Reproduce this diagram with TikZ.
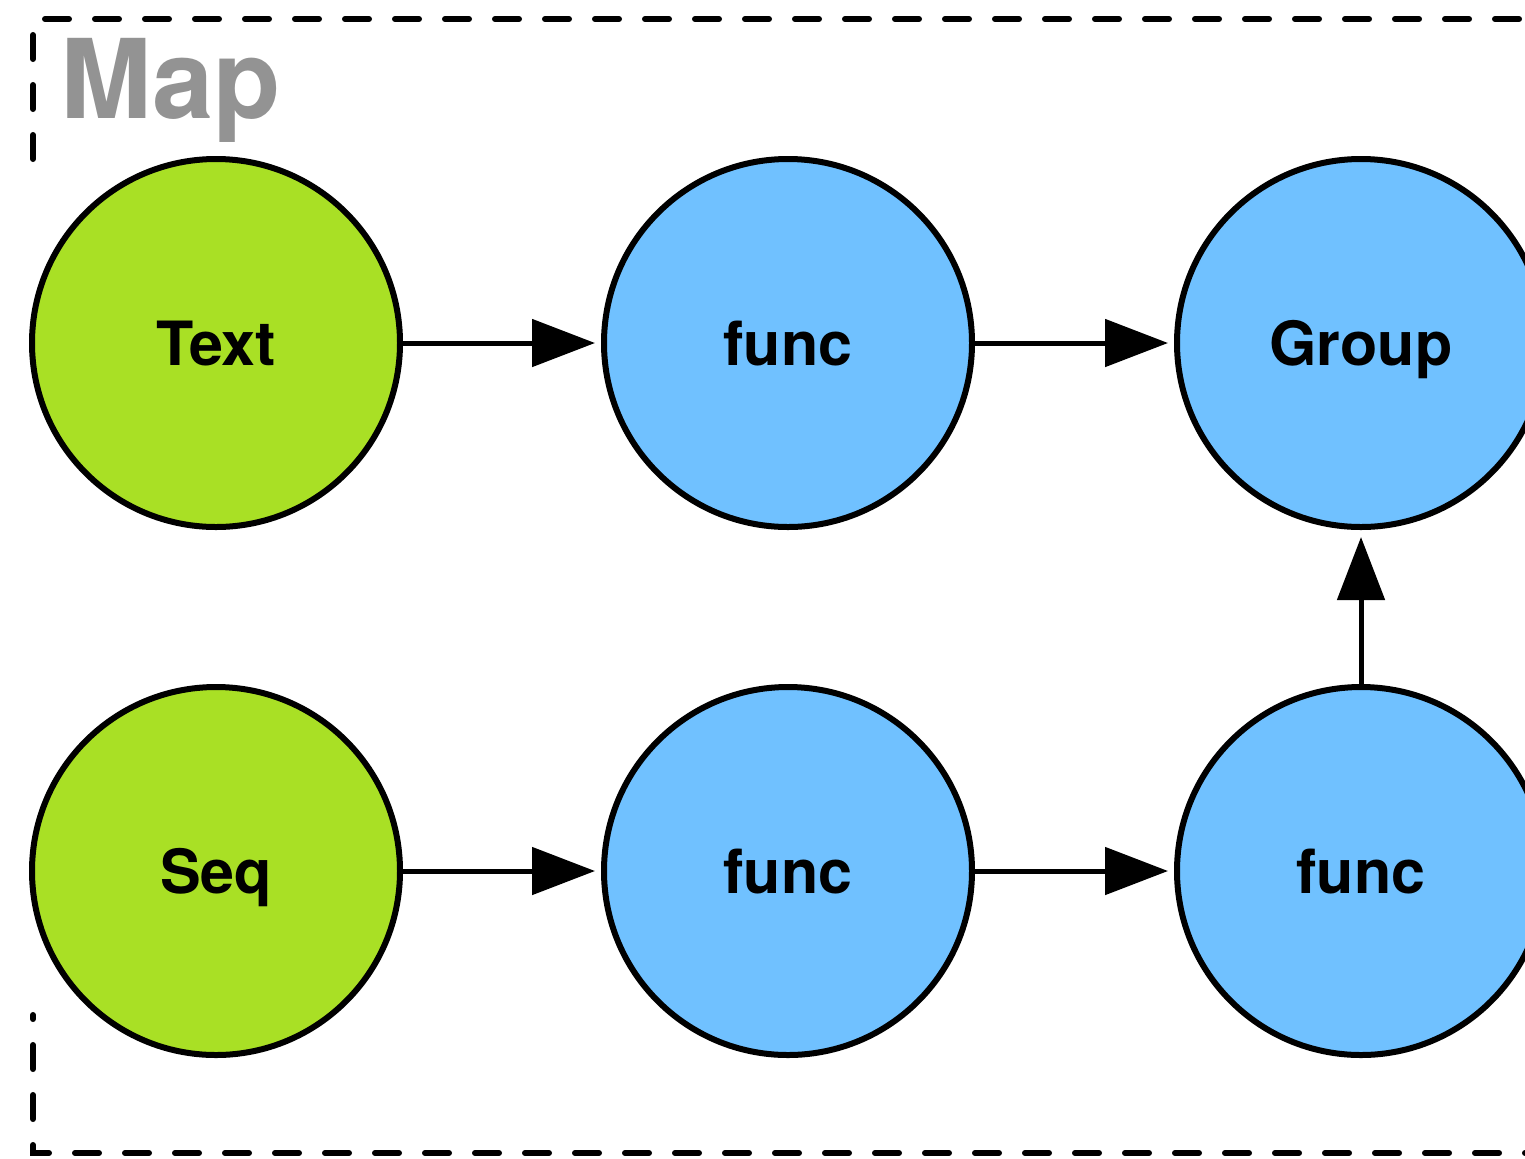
\documentclass[tikz,border=0pt]{standalone}
\usepackage{fontspec}
\setmainfont{TeX Gyre Heros}
\usetikzlibrary{arrows.meta}
\definecolor{leafgreen}{HTML}{A9E025}
\definecolor{skyblue}{HTML}{70C1FF}
\definecolor{labelgray}{HTML}{939393}
\begin{document}
\begin{tikzpicture}[x=0.5pt,y=-0.5pt,
  bubble/.style={circle,draw=black,line width=3pt,minimum size=184pt,inner sep=0pt,
    font=\bfseries\fontsize{30.5}{36}\selectfont,text height=22pt,text depth=0pt},
  srcnode/.style={bubble,fill=leafgreen},
  fnnode/.style={bubble,fill=skyblue},
  flow/.style={line width=2.5pt,-{Triangle[length=31.5pt,width=23.5pt]},shorten >=3pt},
  frameline/.style={line width=3pt,line cap=round,dash pattern=on 12pt off 13pt}]
\useasboundingbox (0,0) rectangle (1525,1158);
\clip (0,0) rectangle (1525,1158);
% frame
\draw[frameline] (45,19) -- (1560,19);
\draw[frameline] (33,35) -- (33,163);
\draw[frameline,dash phase=10pt] (33,1015) -- (33,1153) -- (1560,1153);
\node[anchor=base west,inner sep=0pt,text=labelgray,font=\bfseries\fontsize{55}{60}\selectfont] (maplabel) at (60,118) {Map};
% nodes
\node[srcnode] (text) at (216,343) {Text};
\node[fnnode] (func1) at (788,343) {func};
\node[fnnode] (group) at (1361,343) {Group};
\node[srcnode] (seq) at (216,871) {Seq};
\node[fnnode] (func2) at (788,871) {func};
\node[fnnode] (func3) at (1361,871) {func};
% connectors
\draw[flow] (text) -- (func1);
\draw[flow] (func1) -- (group);
\draw[flow] (seq) -- (func2);
\draw[flow] (func2) -- (func3);
\draw[flow,shorten >=3.5pt] (func3) -- (group);
\end{tikzpicture}
\end{document}
